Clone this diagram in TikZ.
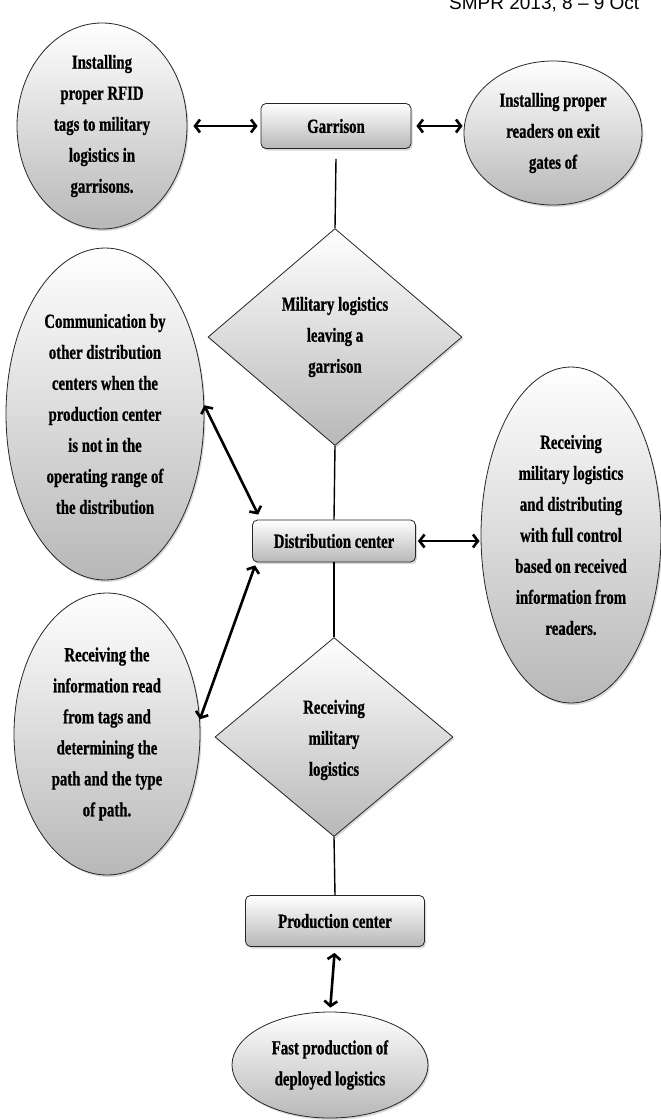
\documentclass[tikz,border=0pt]{standalone}
\usepackage{fontspec}
\setmainfont{Liberation Serif}
\newfontfamily\dfont[FakeStretch=0.74,FakeBold=0.8]{Liberation Serif}
\newfontfamily\hfont{Liberation Sans}
\usetikzlibrary{shapes.geometric,arrows.meta,shadows}
\begin{document}
\begin{tikzpicture}[x=1pt,y=-1pt,
  shp/.style={draw=black!85, line width=0.8pt, top color=white, bottom color=black!28,
    drop shadow={shadow xshift=1.5pt,shadow yshift=-2pt,opacity=0.3}},
  ell/.style={shp, ellipse, inner sep=0pt},
  box/.style={shp, rectangle, rounded corners=5pt, inner sep=0pt,
    font=\dfont\bfseries\fontsize{20}{31}\selectfont},
  dia/.style={shp, diamond, inner sep=0pt},
  txt/.style={align=center, inner sep=0pt, font=\dfont\bfseries\fontsize{20}{31}\selectfont},
  link/.style={line width=1.4pt},
  biarrow/.style={line width=2.6pt, {Straight Barb[length=5pt,width=13pt]}-{Straight Barb[length=5pt,width=13pt]}},
]
\useasboundingbox (0,0) rectangle (661,1120);
\fill[white] (0,0) rectangle (661,1120);

\node[font=\hfont\fontsize{19}{22}\selectfont, anchor=base west, inner sep=0pt] (hdr) at (449,9) {SMPR 2013, 8 – 9 Oct};

% shapes
\node[ell, minimum width=170, minimum height=206] (e1) at (102,126) {};
\node[box, minimum width=150, minimum height=45] (garrison) at (336,126) {Garrison};
\node[ell, minimum width=178, minimum height=144] (e2) at (553,133) {};
\node[dia, minimum width=254, minimum height=217] (d1) at (335,337) {};
\node[ell, minimum width=198, minimum height=332] (e3) at (105,414) {};
\node[box, minimum width=163, minimum height=42] (dist) at (334,541) {Distribution center};
\node[ell, minimum width=180, minimum height=336] (e4) at (571,535) {};
\node[ell, minimum width=186, minimum height=282] (e5) at (107,734) {};
\node[dia, minimum width=238, minimum height=199] (d2) at (334,737) {};
\node[box, minimum width=179, minimum height=51] (prod) at (335,921) {Production center};
\node[ell, minimum width=196, minimum height=106] (e6) at (330,1065) {};

% texts
\node[txt] (t1) at (e1) {Installing\\proper RFID\\tags to military\\logistics in\\garrisons.};
\node[txt] (t2) at (e2) {Installing proper\\readers on exit\\gates of};
\node[txt] (t3) at (d1) {Military logistics\\leaving a\\garrison};
\node[txt] (t4) at (e3) {Communication by\\other distribution\\centers when the\\production center\\is not in the\\operating range of\\the distribution};
\node[txt] (t5) at (e4) {Receiving\\military logistics\\and distributing\\with full control\\based on received\\information from\\readers.};
\node[txt] (t6) at (e5) {Receiving the\\information read\\from tags and\\determining the\\path and the type\\of path.};
\node[txt] (t7) at ([yshift=-3pt]d2.center) {Receiving\\military\\logistics};
\node[txt] (t8) at (e6) {Fast production of\\deployed logistics};

% connectors
\draw[biarrow, shorten <=6pt, shorten >=3pt] (e1.east) -- (garrison.west);
\draw[biarrow, shorten <=5pt, shorten >=1pt] (garrison.east) -- (garrison.east -| e2.west);
\draw[link] ([yshift=-10pt]garrison.south) -- (d1.north);
\draw[link] (d1.south) -- (dist.north);
\draw[link] (dist.south) -- (d2.north);
\draw[link] (d2.south) -- (prod.north);
\draw[biarrow] (e3.5) -- ([shift={(6,-5)}]dist.north west);
\draw[biarrow] ([shift={(3,3)}]dist.south west) -- (e5.9);
\draw[biarrow, shorten <=2pt, shorten >=1pt] (dist.east) -- (dist.east -| e4.west);
\draw[biarrow, shorten <=6pt, shorten >=4pt] (prod.south) -- (e6.north);
\end{tikzpicture}
\end{document}
